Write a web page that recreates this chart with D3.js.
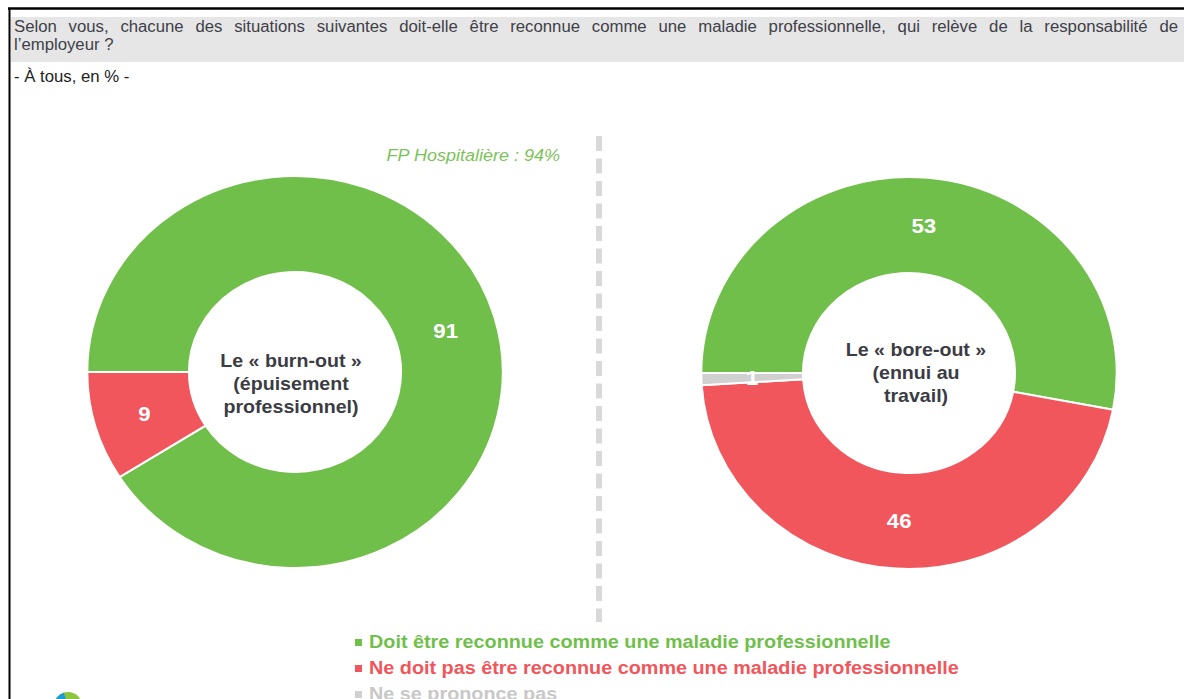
<!DOCTYPE html>
<html>
<head>
<meta charset="utf-8">
<script src="https://cdn.jsdelivr.net/npm/d3@7"></script>
<style>
  body { margin: 0; background: #fff; }
  svg { display: block; font-family: "Liberation Sans", Arial, sans-serif; }
</style>
</head>
<body>
<div id="chart"></div>
<script>
// data
var categories = ["Doit être reconnue comme une maladie professionnelle",
                  "Ne doit pas être reconnue comme une maladie professionnelle",
                  "Ne se prononce pas"];
var colors = ["#70bf4b", "#f0565b", "#d0d0d0"];
var burnoutValues = [91, 9, 0];
var boreoutValues = [53, 46, 1];
var donutTitles = [
  ["Le « burn-out »", "(épuisement", "professionnel)"],
  ["Le « bore-out »", "(ennui au", "travail)"]
];
var question = ["Selon vous, chacune des situations suivantes doit-elle être reconnue comme une maladie professionnelle, qui relève de la responsabilité de",
                "l’employeur ?"];
var base = "- À tous, en % -";
var note = "FP Hospitalière : 94%";

var W = 1184, H = 699;
var SX = 1.06; // the original is slightly stretched horizontally

var svg = d3.select("#chart")
  .append("svg")
    .attr("width", W)
    .attr("height", H);

// text helper: stretched text anchored at x,y
function txt(x, y, str) {
  return svg.append("g")
    .attr("transform", "translate(" + x + "," + y + ") scale(" + SX + ",1)")
    .append("text")
    .text(str);
}

// frame lines
svg.append("line").attr("x1", 8).attr("x2", W).attr("y1", 8.5).attr("y2", 8.5)
  .attr("stroke", "#000").attr("stroke-width", 2.5);
svg.append("line").attr("x1", 9.5).attr("x2", 9.5).attr("y1", 8).attr("y2", H)
  .attr("stroke", "#000").attr("stroke-width", 2);

// header band
svg.append("rect").attr("x", 11).attr("y", 17).attr("width", W - 11).attr("height", 45)
  .attr("fill", "#e6e6e6");

var q1 = txt(14, 32, question[0])
  .style("font-size", "15.8px").style("fill", "#404048");
// justify first line
var len = q1.node().getComputedTextLength();
var spaces = question[0].split(" ").length - 1;
q1.style("word-spacing", (((1178 - 14) / SX - len) / spaces) + "px");

txt(14, 50, question[1])
  .style("font-size", "15.8px").style("fill", "#404048");

txt(14, 82, base)
  .style("font-size", "15.8px").style("fill", "#222");

// dashed separator
svg.append("line")
  .attr("x1", 599).attr("x2", 599).attr("y1", 136).attr("y2", 622)
  .attr("stroke", "#d9d9d9").attr("stroke-width", 6)
  .attr("stroke-dasharray", "15,7.5");

// donuts
var pie = d3.pie().sort(null).value(function(d) { return d; })
  .startAngle(-Math.PI / 2).endAngle(3 * Math.PI / 2);
var rOuter = 196, rInner = 100;
var arc = d3.arc().innerRadius(rInner).outerRadius(rOuter);
var labelArc = d3.arc().innerRadius(148).outerRadius(148);

function drawDonut(cx, cy, values, title, tdx, tdy) {
  var g = svg.append("g")
    .attr("transform", "translate(" + cx + "," + cy + ") scale(" + SX + ",1)");
  var arcs = pie(values).filter(function(d) { return d.value > 0; });
  g.selectAll("path")
    .data(arcs)
    .enter()
    .append("path")
      .attr("d", arc)
      .attr("fill", function(d) { return colors[d.index]; })
      .attr("stroke", "#fff")
      .attr("stroke-width", 2);
  g.selectAll(".val")
    .data(arcs)
    .enter()
    .append("text")
      .attr("class", "val")
      .attr("transform", function(d) {
        var c = labelArc.centroid(d);
        return "translate(" + c[0] + "," + c[1] + ")";
      })
      .attr("dy", "0.35em")
      .attr("text-anchor", "middle")
      .style("font-size", "21px").style("font-weight", "bold")
      .style("fill", "#fff")
      .text(function(d) { return d.value; });

  var t = g.append("text")
    .attr("text-anchor", "middle")
    .style("font-size", "18.5px").style("font-weight", "bold")
    .style("fill", "#3c3c44");
  t.selectAll("tspan")
    .data(title)
    .enter()
    .append("tspan")
      .attr("x", tdx / SX)
      .attr("y", function(d, i) { return (i - (title.length - 1) / 2) * 23 + 6 + tdy; })
      .text(function(d) { return d; });
}

drawDonut(295, 372, burnoutValues, donutTitles[0], -4, 12);
drawDonut(909, 373, boreoutValues, donutTitles[1], 7, 0);

// note above left donut
txt(560, 161, note)
  .attr("text-anchor", "end")
  .style("font-size", "17px").style("font-style", "italic")
  .style("fill", "#7cc25a");

// legend
var legend = svg.selectAll(".legend")
  .data(categories)
  .enter()
  .append("g")
    .attr("class", "legend")
    .attr("transform", function(d, i) { return "translate(355," + (648 + i * 26) + ")"; });
legend.append("rect")
  .attr("x", 0).attr("y", -9).attr("width", 7).attr("height", 7)
  .attr("fill", function(d, i) { return colors[i]; });
legend.append("text")
  .attr("transform", "translate(14,0) scale(" + SX + ",1)")
  .style("font-size", "18.7px").style("font-weight", "bold")
  .style("fill", function(d, i) { return i == 2 ? "#c8c8c8" : colors[i]; })
  .text(function(d) { return d; });

// partial logo at bottom-left
var logo = svg.append("g").attr("transform", "translate(68,706)");
logo.append("circle").attr("r", 14).attr("fill", "#8cc63f");
logo.append("path").attr("d", d3.arc().innerRadius(0).outerRadius(14).startAngle(-Math.PI / 2).endAngle(-0.3)())
  .attr("fill", "#1a9bd7");
</script>
</body>
</html>
